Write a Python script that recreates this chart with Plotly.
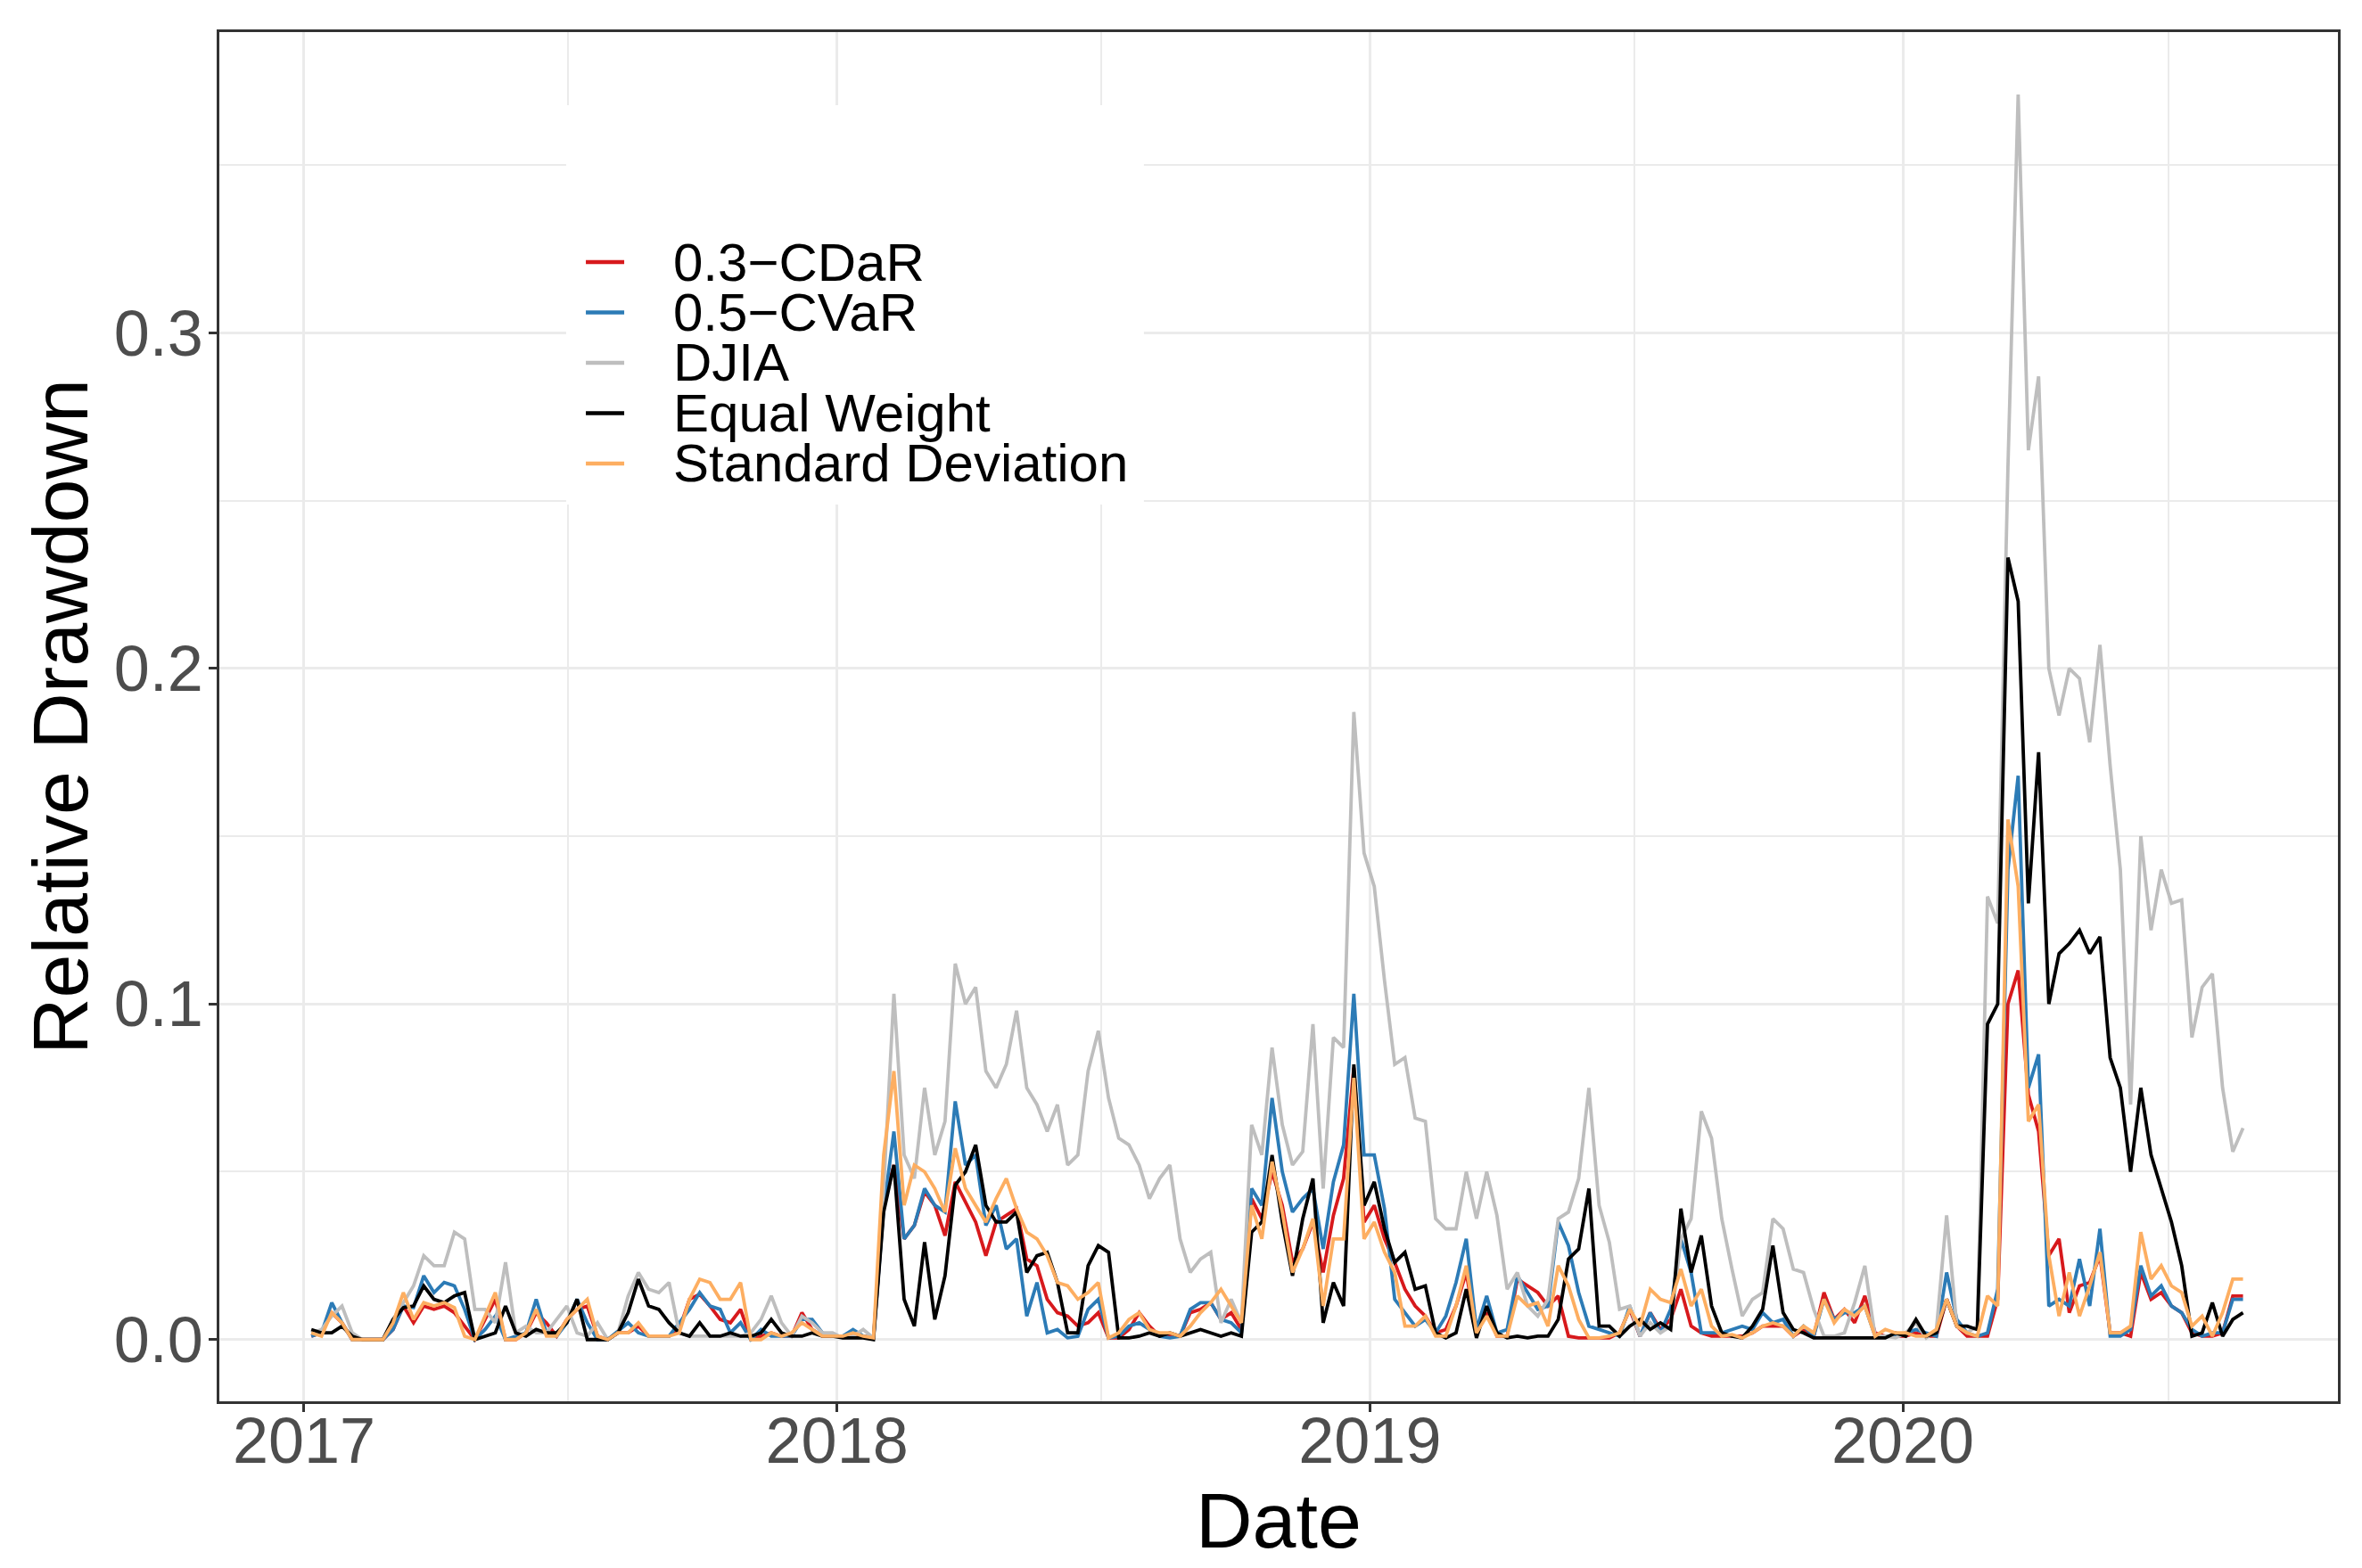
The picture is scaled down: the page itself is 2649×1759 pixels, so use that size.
import pandas as pd
import plotly.graph_objects as go

# Weekly observation dates (Fridays), 2017-01-06 .. 2020-08-21
dates = pd.date_range("2017-01-06", periods=190, freq="7D")

series_names = ["0.3\u2212CDaR", "0.5\u2212CVaR", "DJIA", "Equal Weight", "Standard Deviation"]
series_colors = ["#D7191C", "#2C7BB6", "#BEBEBE", "#000000", "#FDAE61"]

# ---------------- DJIA ----------------
djia_2017 = [0.002,0.003,0.007,0.010, 0.002,0,0,0, 0.006,0.011,0.016,0.025,0.022,
             0.022,0.032,0.030,0.009, 0.009,0.005,0.023,0.002, 0.004,0.002,0.002,0.006,0.010,
             0.002,0.001,0.005,0, 0.002,0.013,0.020,0.015, 0.014,0.017,0.002,0.001,0.001,
             0.001,0.001,0.001,0.001, 0.002,0.006,0.013,0.005, 0.001,0.007,0.005,0.002,0.002]
djia_2018 = [0.0005,0.001,0.003,0.0005, 0.045,0.103,0.055,0.048, 0.075,0.055,0.065,0.112,0.100,
             0.105,0.080,0.075,0.082, 0.098,0.075,0.070,0.062, 0.070,0.052,0.055,0.080,0.092,
             0.072,0.060,0.058,0.052, 0.042,0.048,0.052,0.030,0.020, 0.024,0.026,0.005,0.012,
             0.005,0.064,0.055,0.087, 0.064,0.052,0.056,0.094,0.045, 0.090,0.087,0.187,0.145]
djia_2019 = [0.135,0.107,0.082,0.084, 0.066,0.065,0.036,0.033, 0.033,0.050,0.036,0.050,0.037,
             0.015,0.020,0.010,0.007, 0.012,0.036,0.038,0.048,0.075, 0.040,0.029,0.009,0.010,
             0.001,0.005,0.002,0.004, 0.030,0.036,0.068,0.060,0.036, 0.021,0.007,0.012,0.014,
             0.036,0.033,0.021,0.020, 0.009,0.001,0.001,0.002,0.011, 0.022,0.001,0.001,0.0005]
djia_2020 = [0.002,0.005,0.0005,0.003,0.037, 0.004,0.002,0.004,0.132, 0.124,0.260,0.371,0.265,
             0.287,0.200,0.186,0.200, 0.197,0.178,0.207,0.171,0.140, 0.070,0.150,0.122,0.140,
             0.130,0.131,0.090,0.105,0.109, 0.075,0.056,0.063]

# ---------------- Equal Weight ----------------
ew_2017 = [0.003,0.002,0.002,0.004, 0.001,0,0,0, 0.006,0.0095,0.010,0.016,0.012,
           0.011,0.013,0.014,0, 0.001,0.002,0.010,0.002, 0.001,0.003,0.002,0.002,0.005,
           0.012,0,0,0, 0.002,0.008,0.018,0.010, 0.009,0.005,0.002,0.001,0.005,
           0.001,0.001,0.002,0.001, 0.001,0.002,0.006,0.002, 0.001,0.001,0.002,0.001,0.001]
ew_2018 = [0.0005,0.0005,0.0005,0, 0.038,0.052,0.012,0.004, 0.029,0.006,0.019,0.046,0.050,
           0.058,0.040,0.035,0.035, 0.038,0.020,0.025,0.026, 0.017,0.002,0.002,0.022,0.028,
           0.026,0.0005,0.0005,0.001, 0.002,0.001,0.002,0.001,0.002, 0.003,0.002,0.001,0.002,
           0.001,0.032,0.035,0.055, 0.035,0.019,0.036,0.048,0.005, 0.017,0.010,0.082,0.040]
ew_2019 = [0.047,0.033,0.023,0.026, 0.015,0.016,0.002,0.0005, 0.002,0.015,0.0005,0.010,0.002,
           0.0005,0.001,0.0005,0.001, 0.001,0.006,0.024,0.027,0.045, 0.004,0.004,0.001,0.004,
           0.006,0.003,0.005,0.003, 0.039,0.020,0.031,0.010,0.002, 0.001,0.0005,0.004,0.009,
           0.028,0.008,0.003,0.002, 0.0005,0.0005,0.0005,0.0005,0.0005, 0.0005,0.0005,0.0005,0.002]
ew_2020 = [0.001,0.006,0.001,0.002,0.012, 0.004,0.004,0.003,0.094, 0.100,0.233,0.220,0.130,
           0.175,0.100,0.115,0.118, 0.122,0.115,0.120,0.084,0.075, 0.050,0.075,0.055,0.045,
           0.035,0.022,0.001,0.002,0.011, 0.001,0.006,0.008]

# ---------------- 0.5-CVaR ----------------
cvar_2017 = [0.001,0.002,0.011,0.005, 0,0,0,0, 0.003,0.010,0.0095,0.019,0.014,
             0.017,0.016,0.009,0, 0.003,0.007,0,0.001, 0.002,0.012,0.002,0.001,0.005,
             0.012,0.005,0,0, 0.0025,0.005,0.002,0.001, 0.001,0.001,0.005,0.009,0.014,
             0.010,0.009,0.002,0.005, 0,0.003,0.001,0.001, 0.001,0.006,0.006,0.002,0.001]
cvar_2018 = [0.001,0.003,0.001,0.0005, 0.039,0.062,0.030,0.034, 0.045,0.040,0.038,0.071,0.052,
             0.055,0.034,0.040,0.027, 0.030,0.007,0.017,0.002, 0.003,0.0005,0.001,0.009,0.012,
             0.0005,0.001,0.004,0.005, 0.003,0.001,0.0005,0.001,0.009, 0.011,0.011,0.006,0.005,
             0.002,0.045,0.040,0.072, 0.050,0.038,0.042,0.045,0.027, 0.047,0.058,0.103,0.055]
cvar_2019 = [0.055,0.039,0.012,0.008, 0.004,0.006,0.002,0.007, 0.017,0.030,0.003,0.013,0.002,
             0.003,0.019,0.014,0.009, 0.010,0.035,0.028,0.014,0.004, 0.003,0.002,0.001,0.010,
             0.001,0.008,0.002,0.009, 0.030,0.020,0.002,0.002,0.002, 0.003,0.004,0.003,0.008,
             0.005,0.006,0.001,0.004, 0.001,0.012,0.006,0.008,0.008, 0.010,0.001,0.001,0.001]
cvar_2020 = [0.002,0.003,0.002,0.001,0.020, 0.006,0.002,0.001,0.002, 0.015,0.140,0.168,0.075,
             0.085,0.010,0.012,0.010, 0.024,0.010,0.033,0.001,0.001, 0.003,0.022,0.013,0.016,
             0.010,0.008,0.003,0.001,0.002, 0.002,0.012,0.012]

# ---------------- 0.3-CDaR ----------------
cdar_2017 = [0.001,0.002,0.008,0.005, 0,0,0,0, 0.003,0.010,0.005,0.010,0.009,
             0.010,0.008,0.004,0, 0.006,0.012,0,0, 0.002,0.008,0.005,0.001,0.006,
             0.009,0.010,0.001,0, 0.002,0.002,0.004,0.001, 0.001,0.001,0.003,0.012,0.0135,
             0.010,0.006,0.005,0.009, 0,0.001,0.002,0.001, 0.001,0.008,0.003,0.001,0.001]
cdar_2018 = [0.001,0.001,0.001,0.0005, 0.040,0.052,0.030,0.034, 0.044,0.040,0.031,0.047,0.041,
             0.035,0.025,0.035,0.037, 0.039,0.024,0.022,0.012, 0.008,0.007,0.004,0.005,0.008,
             0.0005,0.0005,0.003,0.008, 0.004,0.001,0.001,0.001,0.008, 0.009,0.011,0.006,0.008,
             0.003,0.042,0.036,0.050, 0.040,0.023,0.027,0.035,0.020, 0.037,0.048,0.081,0.035]
cdar_2019 = [0.040,0.030,0.023,0.015, 0.010,0.007,0.002,0.003, 0.010,0.020,0.002,0.008,0.001,
             0.001,0.018,0.016,0.014, 0.010,0.013,0.001,0.0005,0.0005, 0.0005,0.0005,0.002,0.009,
             0.001,0.008,0.003,0.006, 0.015,0.004,0.002,0.001,0.001, 0.001,0.001,0.002,0.004,
             0.004,0.004,0.001,0.003, 0.001,0.014,0.006,0.009,0.005, 0.013,0.002,0.001,0.001]
cdar_2020 = [0.001,0.002,0.001,0.001,0.012, 0.004,0.001,0.001,0.001, 0.012,0.100,0.110,0.073,
             0.062,0.025,0.030,0.008, 0.016,0.017,0.025,0.002,0.002, 0.001,0.020,0.012,0.014,
             0.010,0.008,0.002,0.001,0.001, 0.002,0.013,0.013]

# ---------------- Standard Deviation ----------------
sd_2017 = [0.002,0.001,0.008,0.005, 0,0,0,0, 0.005,0.014,0.006,0.011,0.010,
           0.011,0.0095,0.001,0, 0.007,0.014,0,0, 0.002,0.009,0.001,0.001,0.006,
           0.009,0.012,0.001,0, 0.002,0.002,0.005,0.001, 0.001,0.001,0.002,0.012,0.018,
           0.017,0.012,0.012,0.017, 0,0,0.002,0.001, 0.002,0.005,0.003,0.001,0.001]
sd_2018 = [0.001,0.002,0.001,0.0005, 0.055,0.080,0.040,0.052, 0.050,0.045,0.038,0.057,0.045,
           0.040,0.035,0.042,0.048, 0.039,0.032,0.030,0.025, 0.017,0.016,0.012,0.014,0.017,
           0.0005,0.002,0.006,0.008, 0.003,0.002,0.002,0.001,0.004, 0.008,0.011,0.015,0.010,
           0.005,0.040,0.030,0.053, 0.038,0.020,0.027,0.036,0.010, 0.030,0.030,0.078,0.030]
sd_2019 = [0.035,0.026,0.020,0.004, 0.004,0.007,0.001,0.001, 0.010,0.022,0.002,0.007,0.001,
           0.001,0.013,0.010,0.011, 0.004,0.022,0.016,0.006,0.0005, 0.0005,0.001,0.002,0.009,
           0.004,0.015,0.012,0.011, 0.021,0.010,0.015,0.004,0.001, 0.0015,0.0005,0.002,0.004,
           0.005,0.004,0.001,0.004, 0.002,0.012,0.005,0.009,0.007, 0.010,0.001,0.003,0.002]
sd_2020 = [0.002,0.001,0.001,0.003,0.012, 0.004,0.002,0.001,0.013, 0.010,0.155,0.135,0.065,
           0.070,0.025,0.007,0.020, 0.007,0.016,0.026,0.002,0.002, 0.004,0.032,0.018,0.022,
           0.016,0.014,0.004,0.007,0.001, 0.008,0.018,0.018]

cdar = cdar_2017 + cdar_2018 + cdar_2019 + cdar_2020
cvar = cvar_2017 + cvar_2018 + cvar_2019 + cvar_2020
djia = djia_2017 + djia_2018 + djia_2019 + djia_2020
ew = ew_2017 + ew_2018 + ew_2019 + ew_2020
sd = sd_2017 + sd_2018 + sd_2019 + sd_2020
all_values = [cdar, cvar, djia, ew, sd]

FONT = "Liberation Sans, Arial, Helvetica, sans-serif"
GRID = "#EBEBEB"
DARK = "#333333"

fig = go.Figure()
for name, color, vals in zip(series_names, series_colors, all_values):
    fig.add_trace(go.Scatter(x=dates, y=vals, mode="lines", name=name,
                             line=dict(color=color, width=3.8), showlegend=False))

fig.update_layout(
    width=2649, height=1759,
    margin=dict(l=246, r=27, t=36, b=187),
    paper_bgcolor="white", plot_bgcolor="white",
    font=dict(family=FONT, color="black"),
    showlegend=False,
)

fig.update_xaxes(
    type="date", range=["2016-11-04", "2020-10-25"],
    tick0="2017-01-01", dtick="M12", tickformat="%Y",
    showgrid=True, gridcolor=GRID, gridwidth=3,
    minor=dict(dtick="M6", showgrid=True, gridcolor=GRID, gridwidth=1.6, ticks=""),
    ticks="outside", ticklen=9, tickwidth=2.5, tickcolor=DARK,
    tickfont=dict(size=72, color="#4D4D4D", family=FONT), ticklabelstandoff=-29,
    showline=True, mirror=True, linecolor=DARK, linewidth=2.5, zeroline=False,
    title=dict(text="Date", font=dict(size=88, color="black", family=FONT), standoff=14),
)
fig.update_yaxes(
    range=[-0.0184, 0.3896], tick0=0, dtick=0.1, tickformat=".1f",
    showgrid=True, gridcolor=GRID, gridwidth=3,
    minor=dict(dtick=0.05, showgrid=True, gridcolor=GRID, gridwidth=1.6, ticks=""),
    ticks="outside", ticklen=9, tickwidth=2.5, tickcolor=DARK,
    tickfont=dict(size=72, color="#4D4D4D", family=FONT), ticklabelstandoff=-8,
    showline=True, mirror=True, linecolor=DARK, linewidth=2.5, zeroline=False,
    title=dict(text="Relative Drawdown", font=dict(size=88, color="black", family=FONT), standoff=0),
)

# Legend (drawn inside the panel, like the original)
legend_box = dict(x0=0.1637, x1=0.4364, y0=0.6549, y1=0.9466)
legend_key_x = (0.1730, 0.1911)
legend_text_x = 0.2134
legend_rows_y = [0.8320, 0.7952, 0.7585, 0.7217, 0.6849]

fig.add_shape(type="rect", xref="paper", yref="paper", layer="above",
              x0=legend_box["x0"], x1=legend_box["x1"], y0=legend_box["y0"], y1=legend_box["y1"],
              fillcolor="white", line=dict(width=0))
for name, color, yy in zip(series_names, series_colors, legend_rows_y):
    fig.add_shape(type="line", xref="paper", yref="paper", layer="above",
                  x0=legend_key_x[0], x1=legend_key_x[1], y0=yy, y1=yy,
                  line=dict(color=color, width=4.5))
    fig.add_annotation(xref="paper", yref="paper", x=legend_text_x, y=yy,
                       text=name, showarrow=False, xanchor="left", yanchor="middle",
                       font=dict(size=60, color="black", family=FONT))

fig.write_html("out.html", config={"displayModeBar": False},
               post_script="document.body.style.margin='0';")
